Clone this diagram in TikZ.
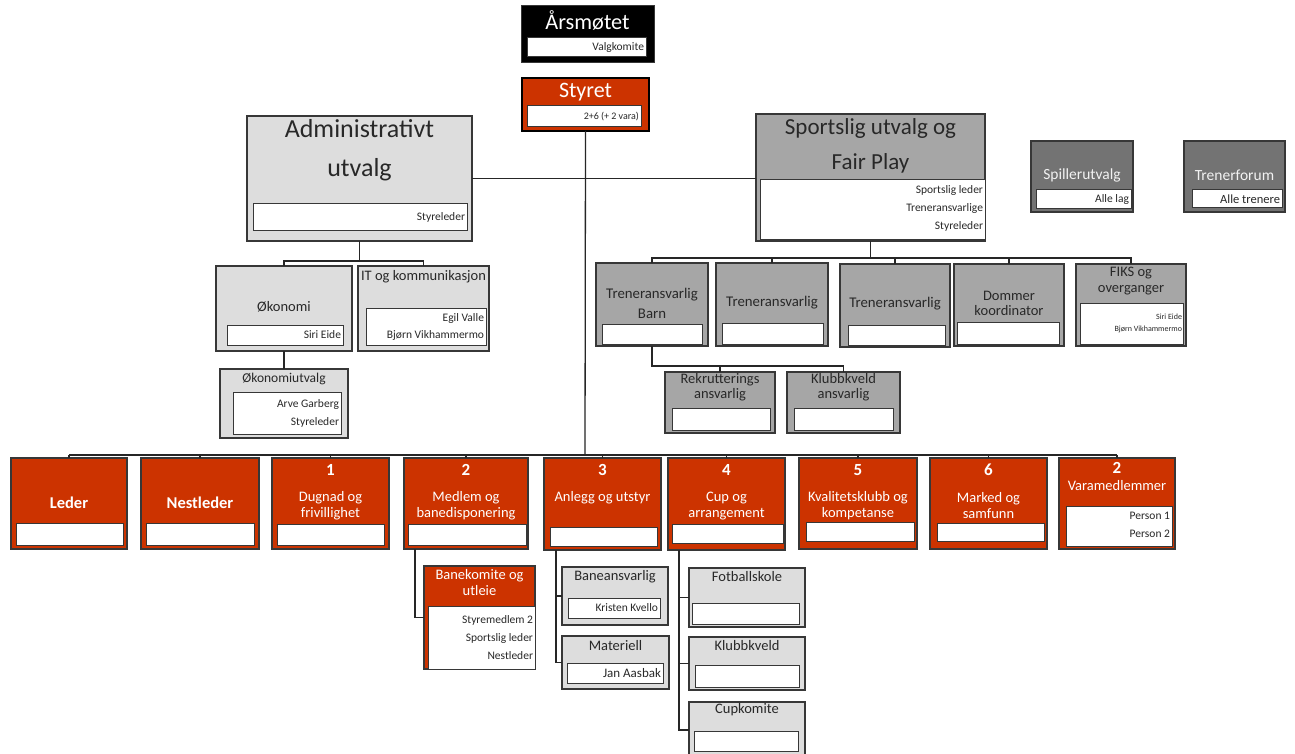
\documentclass[tikz,border=0pt]{standalone}
\usepackage{fontspec}
\setmainfont{Carlito}
\definecolor{rd}{RGB}{204,51,0}
\definecolor{lgr}{RGB}{221,221,221}
\definecolor{mgr}{RGB}{166,166,166}
\definecolor{dgr}{RGB}{115,115,115}
\definecolor{bord}{RGB}{55,55,55}
\definecolor{tx}{RGB}{40,40,40}
\newcommand\bx[6]{\node[#1, anchor=north west, minimum width=#5pt-#3pt, minimum height=#6pt-#4pt] (#2) at (#3,#4) {};}
\tikzset{
  boxb/.style={draw=bord, line width=1.3pt, inner sep=0pt, outer sep=0pt},
  lbox/.style={boxb, fill=lgr},
  mbox/.style={boxb, fill=mgr},
  dbox/.style={boxb, fill=dgr},
  rbox/.style={boxb, fill=rd},
  wb/.style={draw=bord, line width=1pt, fill=white, inner sep=0pt, outer sep=0pt},
  tt/.style={inner sep=0pt, outer sep=0pt, align=center, text=tx},
  mt/.style={tt, font=\fontsize{14.5}{16}\selectfont},
  wt/.style={tt, text=white, font=\fontsize{14.5}{16}\selectfont},
  nt/.style={tt, text=white, font=\bfseries\fontsize{17}{20}\selectfont},
  rt/.style={inner sep=0pt, outer sep=0pt, anchor=east, align=right, text=tx, font=\fontsize{11.5}{18}\selectfont},
  ln/.style={draw=black!85, line width=1.3pt},
}
\begin{document}
\begin{tikzpicture}[x=1pt, y=-1pt]
\fill[white] (0,0) rectangle (1295,754);
\useasboundingbox (0,0) rectangle (1295,754);
\clip (0,0) rectangle (1295,754);

% Top
\bx{fill=black, draw=bord, line width=1pt, inner sep=0pt, outer sep=0pt}{ars}{521}{6}{654}{63}
\bx{wb}{arsi}{527}{38}{646}{57}
\node[tt, text=white, font=\fontsize{22.3}{24}\selectfont] (arst) at (587.5,20) {Årsmøtet};
\node[rt] (arsr) at (644,47.5) {Valgkomite};

\bx{fill=rd, draw=black, line width=1.8pt, inner sep=0pt, outer sep=0pt}{sty}{522}{78}{649}{131}
\bx{wb}{styi}{527}{106}{641}{127}
\node[tt, text=white, font=\fontsize{22}{24}\selectfont] (styt) at (585.5,92) {Styret};
\node[rt, font=\fontsize{10}{12}\selectfont] (styr) at (639,116.5) {2+6 (+ 2 vara)};

% Admin
\bx{lbox}{adm}{247}{116}{472}{241}
\bx{wb}{admi}{253}{204}{467}{230}
\node[tt, font=\fontsize{26}{39}\selectfont] (admt) at (359.5,150.5) {Administrativt\\utvalg};
\node[rt] (admr) at (465,217) {Styreleder};

% Sports
\bx{mbox}{spo}{756}{114}{985}{241}
\bx{wb}{spoi}{760}{180}{985}{239}
\node[tt, font=\fontsize{23}{35}\selectfont] (spot) at (870.5,145.5) {Sportslig utvalg og\\Fair Play};
\node[rt] (spor) at (983,208) {Sportslig leder\\Treneransvarlige\\Styreleder};

% Spillerutvalg / Trenerforum
\bx{dbox}{spi}{1031}{141}{1133}{212}
\bx{wb}{spii}{1036}{190}{1131}{209}
\node[tt, text=white!95!black, font=\fontsize{15.5}{18}\selectfont] (spit) at (1082,175) {Spillerutvalg};
\node[rt] (spir) at (1129,199.5) {Alle lag};
\bx{dbox}{tf}{1184}{141}{1285}{212}
\bx{wb}{tfi}{1192}{190}{1282}{208}
\node[tt, text=white!95!black, font=\fontsize{15.5}{18}\selectfont] (tft) at (1234.5,175) {Trenerforum};
\node[rt, font=\fontsize{12.5}{14}\selectfont] (tfr) at (1280,199) {Alle trenere};

% Admin subtree
\bx{lbox}{oko}{216}{266}{352}{351}
\bx{wb}{okoi}{227}{325}{343}{345}
\node[mt] (okot) at (284,307) {Økonomi};
\node[rt] (okor) at (341,335) {Siri Eide};
\bx{lbox}{it}{358}{266}{489}{351}
\bx{wb}{iti}{366}{308}{486}{345}
\node[mt] (itt) at (423.5,277) {IT og kommunikasjon};
\node[rt, font=\fontsize{11.5}{17}\selectfont] (itr) at (484,326.5) {Egil Valle\\Bjørn Vikhammermo};
\bx{lbox}{okou}{220}{369}{348}{438}
\bx{wb}{okoui}{233}{392}{341}{434}
\node[tt, font=\fontsize{13.5}{16}\selectfont] (okout) at (284,379) {Økonomiutvalg};
\node[rt] (okour) at (339,413) {Arve Garberg\\Styreleder};

% Sports subtree
\bx{mbox}{tb}{596}{263}{708}{346}
\bx{wb}{tbi}{602}{324}{702}{344}
\node[tt, font=\fontsize{14.8}{20}\selectfont] (tbt) at (652,303) {Treneransvarlig\\Barn};
\bx{mbox}{t2}{716}{263}{828}{346}
\bx{wb}{t2i}{722}{323}{823}{344}
\node[tt, font=\fontsize{14.8}{20}\selectfont] (t2t) at (772,303) {Treneransvarlig};
\bx{mbox}{t3}{840}{264}{950}{347}
\bx{wb}{t3i}{848}{325}{945}{345}
\node[tt, font=\fontsize{14.8}{20}\selectfont] (t3t) at (895,304) {Treneransvarlig};
\bx{mbox}{dom}{954}{264}{1064}{346}
\bx{wb}{domi}{957}{322}{1059}{344}
\node[tt, font=\fontsize{14.5}{15}\selectfont] (domt) at (1009,303.5) {Dommer\\koordinator};
\bx{mbox}{fiks}{1076}{264}{1186}{346}
\bx{wb}{fiksi}{1080}{303}{1183}{344}
\node[tt, font=\fontsize{14.5}{16}\selectfont] (fikst) at (1131,281) {FIKS og\\overganger};
\node[rt, font=\fontsize{8}{12}\selectfont] (fiksr) at (1182,323) {Siri Eide\\Bjørn Vikhammermo};
\bx{mbox}{rek}{665}{372}{775}{433}
\bx{wb}{reki}{672}{408}{770}{430}
\node[tt, font=\fontsize{14.5}{15}\selectfont] (rekt) at (720,387.5) {Rekrutterings\\ansvarlig};
\bx{mbox}{kv}{787}{372}{900}{433}
\bx{wb}{kvi}{794}{408}{893}{430}
\node[tt, font=\fontsize{14.5}{15}\selectfont] (kvt) at (843.5,387.5) {Klubbkveld\\ansvarlig};

% Bottom row
\bx{rbox}{led}{11}{458}{127}{549}
\bx{wb}{ledi}{16}{523}{123}{545}
\node[tt, text=white, font=\bfseries\fontsize{16.5}{20}\selectfont] (ledt) at (69,503) {Leder};
\bx{rbox}{nes}{141}{458}{259}{549}
\bx{wb}{nesi}{146}{523}{254}{545}
\node[tt, text=white, font=\bfseries\fontsize{16.5}{20}\selectfont] (nest) at (200,503) {Nestleder};
\bx{rbox}{dug}{272}{458}{389}{549}
\bx{wb}{dugi}{277}{524}{384}{545}
\node[nt] (dugn) at (330.5,470) {1};
\node[wt] (dugt) at (330.5,506) {Dugnad og\\frivillighet};
\bx{rbox}{med}{404}{458}{528}{549}
\bx{wb}{medi}{408}{524}{526}{545}
\node[nt] (medn) at (466,470) {2};
\node[wt] (medt) at (466,506) {Medlem og\\banedisponering};
\bx{rbox}{anl}{544}{458}{661}{550}
\bx{wb}{anli}{550}{527}{657}{546}
\node[nt] (anln) at (602.5,470) {3};
\node[wt] (anlt) at (602.5,498) {Anlegg og utstyr};
\bx{rbox}{cup}{668}{458}{785}{550}
\bx{wb}{cupi}{672}{524}{783}{543}
\node[nt] (cupn) at (726.5,470) {4};
\node[wt] (cupt) at (726.5,506) {Cup og\\arrangement};
\bx{rbox}{kval}{799}{458}{917}{549}
\bx{wb}{kvali}{806}{522}{914}{541}
\node[nt] (kvaln) at (858,470) {5};
\node[wt] (kvalt) at (858,506) {Kvalitetsklubb og\\kompetanse};
\bx{rbox}{mark}{930}{458}{1047}{549}
\bx{wb}{marki}{937}{523}{1044}{541}
\node[nt] (markn) at (988.5,470) {6};
\node[wt] (markt) at (988.5,506) {Marked og\\samfunn};
\bx{rbox}{vara}{1059}{458}{1175}{549}
\bx{wb}{varai}{1066}{506}{1172}{546}
\node[nt] (varan) at (1117,468) {2};
\node[wt] (varat) at (1117,486) {Varamedlemmer};
\node[rt] (varar) at (1170,525) {Person 1\\Person 2};

% Lower sub-boxes
\bx{rbox}{bane}{424}{566}{535}{669}
\bx{fill=white, draw=bord, line width=0.8pt, inner sep=0pt, outer sep=0pt}{banei}{428}{606}{535}{669}
\node[wt] (banet) at (479.5,583) {Banekomite og\\utleie};
\node[rt] (baner) at (533,638) {Styremedlem 2\\Sportslig leder\\Nestleder};

\bx{lbox}{banea}{562}{567}{668}{625}
\bx{wb}{baneai}{568}{598}{660}{618}
\node[mt] (baneat) at (615,577) {Baneansvarlig};
\node[rt] (banear) at (658,608) {Kristen Kvello};
\bx{lbox}{mat}{562}{636}{669}{689}
\bx{wb}{mati}{567}{663}{663}{683}
\node[mt] (matt) at (615.5,646) {Materiell};
\node[rt, font=\fontsize{13}{15}\selectfont] (matr) at (661,673) {Jan Aasbak};

\bx{lbox}{fotb}{689}{568}{805}{627}
\bx{wb}{fotbi}{692}{603}{799}{624}
\node[mt] (fotbt) at (747,577) {Fotballskole};
\bx{lbox}{klb}{689}{637}{805}{690}
\bx{wb}{klbi}{695}{665}{799}{687}
\node[mt] (klbt) at (747,646) {Klubbkveld};
\bx{lbox}{cupk}{689}{702}{805}{758}
\bx{wb}{cupki}{694}{731}{798}{751}
\node[mt] (cupkt) at (747,710) {Cupkomite};

% Connectors
\coordinate (bus) at (585,455);
\coordinate (busL) at (69,455);
\coordinate (busR) at (1117,455);
\draw[ln] (sty.south) -- (bus);
\draw[ln] (adm.east) -- (spo.west |- adm.east);
\draw[ln] (busL) -- (busR);
\foreach \n in {led,nes,dug,med,anl,cup,kval,mark,vara}
  \draw[ln] (\n.north) -- (\n.north |- bus);

\coordinate (aj) at (359.5,261);
\draw[ln] (adm.south) -- (aj);
\draw[ln] (oko.north) |- (aj) -| (it.north);
\draw[ln] (oko.south) -- (okou.north);

\coordinate (sj) at (870.5,258);
\draw[ln] (spo.south) -- (sj);
\draw[ln] (tb.north) |- (sj) -| (fiks.north);
\foreach \n in {t2,t3,dom}
  \draw[ln] (\n.north) -- (\n.north |- sj);

\coordinate (tbj) at (652,366);
\draw[ln] (tb.south) -- (tbj) -| (kv.north);
\draw[ln] (rek.north) -- (rek.north |- tbj);

\draw[ln] ([xshift=11pt]med.south west) |- (bane.west);
\draw[ln] ([xshift=12pt]anl.south west) |- (mat.west);
\draw[ln] (banea.west) -| ([xshift=12pt]anl.south west);
\draw[ln] ([xshift=11pt]cup.south west) |- (cupk.west);
\draw[ln] (fotb.west) -| ([xshift=11pt]cup.south west);
\draw[ln] (klb.west) -| ([xshift=11pt]cup.south west);
\end{tikzpicture}
\end{document}
